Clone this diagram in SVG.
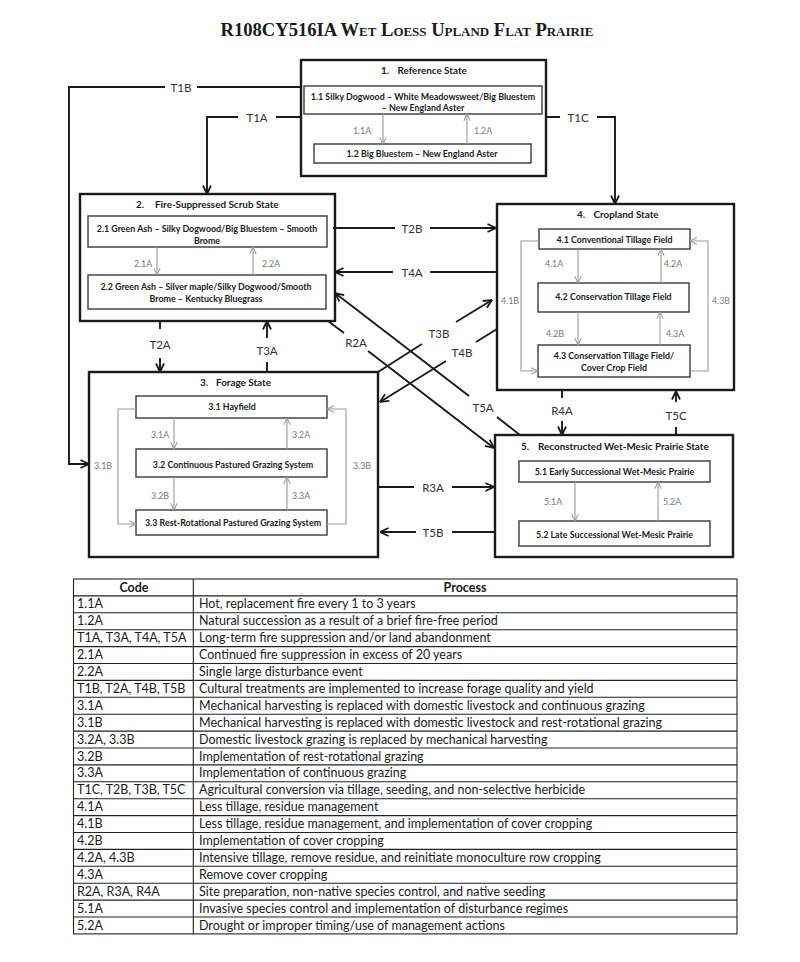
<svg xmlns="http://www.w3.org/2000/svg" width="800" height="962" viewBox="0 0 800 962">
<style>
.bg{fill:#fff}
.outer{fill:#fff;stroke:#1a1a1a;stroke-width:2.4}
.inner{fill:#fff;stroke:#3a3a3a;stroke-width:1.4}
.con{fill:none;stroke:#1a1a1a;stroke-width:1.9}
.gcon{fill:none;stroke:#9a9a9a;stroke-width:1.1}
.st{font-family:Lato,"Liberation Sans",sans-serif;font-weight:bold;font-size:9.9px;fill:#1a1a1a}
.bt{font-family:Lato,"Liberation Sans",sans-serif;font-weight:bold;font-size:8.9px;fill:#1a1a1a;text-anchor:middle}
.cl{font-family:Lato,"Liberation Sans",sans-serif;font-size:11.5px;fill:#333;text-anchor:middle;dominant-baseline:central}
.gl{font-family:Lato,"Liberation Sans",sans-serif;font-size:8.8px;fill:#777;text-anchor:middle;dominant-baseline:central}
.tt{font-family:Lato,"Liberation Sans",sans-serif;font-size:12.5px;fill:#1a1a1a}
.th{font-family:Lato,"Liberation Sans",sans-serif;font-size:12.5px;font-weight:bold;fill:#1a1a1a;text-anchor:middle}
.tl{fill:none;stroke:#222;stroke-width:1.1}
</style>
<defs>
<marker id="ah" viewBox="0 0 10 10" refX="9.5" refY="5" markerWidth="10" markerHeight="10" markerUnits="userSpaceOnUse" orient="auto">
<path d="M1,1 L9.5,5 L1,9" fill="none" stroke="#1a1a1a" stroke-width="1.8"/>
</marker>
<marker id="gh" viewBox="0 0 10 10" refX="9.5" refY="5" markerWidth="8" markerHeight="8" markerUnits="userSpaceOnUse" orient="auto">
<path d="M1,1 L9.5,5 L1,9" fill="none" stroke="#9a9a9a" stroke-width="1.3"/>
</marker>
</defs>
<rect class="bg" x="0" y="0" width="800" height="962"/>

<text x="407" y="35.7" font-family="'Liberation Serif','Times New Roman',serif" font-weight="bold" font-size="18.7" font-variant="small-caps" text-anchor="middle" textLength="373" lengthAdjust="spacingAndGlyphs" fill="#1a1a1a">R108CY516IA Wet Loess Upland Flat Prairie</text>

<g id="state1">
<rect class="outer" x="301" y="60" width="245" height="116"/>
<text class="st" y="74"><tspan x="381">1.</tspan><tspan x="397.5">Reference State</tspan></text>
<rect class="inner" x="304" y="86" width="238" height="28"/>
<text class="bt" x="423" y="99.5">1.1 Silky Dogwood – White Meadowsweet/Big Bluestem</text>
<text class="bt" x="423" y="110.5">– New England Aster</text>
<rect class="inner" x="314" y="144" width="217" height="19"/>
<text class="bt" x="422" y="156.5">1.2 Big Bluestem – New England Aster</text>
<path class="gcon" d="M383,114 V144" marker-end="url(#gh)"/>
<path class="gcon" d="M467,144 V114" marker-end="url(#gh)"/>
<text class="gl" x="362" y="130">1.1A</text>
<text class="gl" x="483" y="130">1.2A</text>
</g>

<g id="state2">
<rect class="outer" x="80" y="194" width="255" height="127"/>
<text class="st" y="207.5"><tspan x="136">2.</tspan><tspan x="155">Fire-Suppressed Scrub State</tspan></text>
<rect class="inner" x="88" y="216" width="239" height="31"/>
<text class="bt" x="207" y="232">2.1  Green Ash – Silky Dogwood/Big Bluestem – Smooth</text>
<text class="bt" x="207" y="243.5">Brome</text>
<rect class="inner" x="88" y="275" width="238" height="34"/>
<text class="bt" x="206" y="290">2.2  Green Ash – Silver maple/Silky Dogwood/Smooth</text>
<text class="bt" x="206" y="301.5">Brome – Kentucky Bluegrass</text>
<path class="gcon" d="M157,247 V275" marker-end="url(#gh)"/>
<path class="gcon" d="M253,275 V247" marker-end="url(#gh)"/>
<text class="gl" x="143" y="263">2.1A</text>
<text class="gl" x="271" y="263">2.2A</text>
</g>

<g id="state4">
<rect class="outer" x="497" y="204" width="237" height="186"/>
<text class="st" y="217.5"><tspan x="577">4.</tspan><tspan x="593.5">Cropland State</tspan></text>
<rect class="inner" x="539" y="229" width="151" height="20"/>
<text class="bt" x="614.5" y="242.5">4.1 Conventional Tillage Field</text>
<rect class="inner" x="538" y="283" width="151" height="29"/>
<text class="bt" x="613.5" y="300">4.2 Conservation Tillage Field</text>
<rect class="inner" x="538" y="345" width="152" height="32"/>
<text class="bt" x="614" y="359">4.3 Conservation Tillage Field/</text>
<text class="bt" x="614" y="370.5">Cover Crop Field</text>
<path class="gcon" d="M578,249 V283" marker-end="url(#gh)"/>
<path class="gcon" d="M661,283 V249" marker-end="url(#gh)"/>
<path class="gcon" d="M578,312 V345" marker-end="url(#gh)"/>
<path class="gcon" d="M660,345 V312" marker-end="url(#gh)"/>
<path class="gcon" d="M539,241 H521 V371 H538" marker-end="url(#gh)"/>
<path class="gcon" d="M690,371 H708 V241 H690" marker-end="url(#gh)"/>
<text class="gl" x="554" y="263">4.1A</text>
<text class="gl" x="673" y="263">4.2A</text>
<text class="gl" x="555" y="333">4.2B</text>
<text class="gl" x="675" y="333">4.3A</text>
<text class="gl" x="510" y="300">4.1B</text>
<text class="gl" x="721" y="300">4.3B</text>
</g>

<g id="state3">
<rect class="outer" x="89" y="372" width="289" height="185"/>
<text class="st" y="386"><tspan x="200">3.</tspan><tspan x="216">Forage State</tspan></text>
<rect class="inner" x="136" y="396" width="191" height="22"/>
<text class="bt" x="232" y="410">3.1 Hayfield</text>
<rect class="inner" x="136" y="449" width="191" height="28"/>
<text class="bt" x="233" y="468">3.2 Continuous Pastured Grazing System</text>
<rect class="inner" x="136" y="510" width="191" height="25"/>
<text class="bt" x="233" y="526">3.3 Rest-Rotational Pastured Grazing System</text>
<path class="gcon" d="M174,418 V449" marker-end="url(#gh)"/>
<path class="gcon" d="M287,449 V418" marker-end="url(#gh)"/>
<path class="gcon" d="M174,477 V510" marker-end="url(#gh)"/>
<path class="gcon" d="M287,510 V477" marker-end="url(#gh)"/>
<path class="gcon" d="M136,409 H118 V524 H136" marker-end="url(#gh)"/>
<path class="gcon" d="M327,524 H346 V409 H327" marker-end="url(#gh)"/>
<text class="gl" x="160" y="434">3.1A</text>
<text class="gl" x="301" y="434">3.2A</text>
<text class="gl" x="160" y="495">3.2B</text>
<text class="gl" x="301" y="495">3.3A</text>
<text class="gl" x="103" y="465">3.1B</text>
<text class="gl" x="362" y="465">3.3B</text>
</g>

<g id="state5">
<rect class="outer" x="495" y="435" width="238" height="122"/>
<text class="st" y="450"><tspan x="521">5.</tspan><tspan x="538">Reconstructed Wet-Mesic Prairie State</tspan></text>
<rect class="inner" x="519" y="461" width="191" height="21"/>
<text class="bt" x="614.5" y="475">5.1 Early Successional Wet-Mesic Prairie</text>
<rect class="inner" x="519" y="521" width="191" height="25"/>
<text class="bt" x="614.5" y="538">5.2 Late Successional Wet-Mesic Prairie</text>
<path class="gcon" d="M575,482 V521" marker-end="url(#gh)"/>
<path class="gcon" d="M658,521 V482" marker-end="url(#gh)"/>
<text class="gl" x="553" y="501">5.1A</text>
<text class="gl" x="672" y="501">5.2A</text>
</g>

<g id="connectors">
<path class="con" d="M301,87 H197 M165,87 H69 V464 H89" marker-end="url(#ah)"/>
<text class="cl" x="181" y="87">T1B</text>
<path class="con" d="M301,117 H276 M238,117 H207 V194" marker-end="url(#ah)"/>
<text class="cl" x="257" y="117">T1A</text>
<path class="con" d="M546,117 H560 M597,117 H615 V204" marker-end="url(#ah)"/>
<text class="cl" x="578" y="117">T1C</text>
<path class="con" d="M333,228 H395 M430,228 H496" marker-end="url(#ah)"/>
<text class="cl" x="412" y="228">T2B</text>
<path class="con" d="M497,272 H430 M393,272 H335" marker-end="url(#ah)"/>
<text class="cl" x="412" y="272">T4A</text>
<path class="con" d="M160,321 V329 M160,358 V372" marker-end="url(#ah)"/>
<text class="cl" x="160" y="344">T2A</text>
<path class="con" d="M267,372 V362 M267,338 V321" marker-end="url(#ah)"/>
<text class="cl" x="267" y="350">T3A</text>
<path class="con" d="M328,321 L344,333 M368,351 L494,448" marker-end="url(#ah)"/>
<text class="cl" x="356" y="342">R2A</text>
<path class="con" d="M520,435 L497,417 M469,396 L335,293" marker-end="url(#ah)"/>
<text class="cl" x="483" y="407">T5A</text>
<path class="con" d="M378,372 L422,344 M456,322 L492,300" marker-end="url(#ah)"/>
<text class="cl" x="439" y="333">T3B</text>
<path class="con" d="M497,329 L476,342 M446,361 L380,402" marker-end="url(#ah)"/>
<text class="cl" x="462" y="352">T4B</text>
<path class="con" d="M562,390 V398 M562,421 V435" marker-end="url(#ah)"/>
<text class="cl" x="562" y="410">R4A</text>
<path class="con" d="M676,435 V427 M676,402 V391" marker-end="url(#ah)"/>
<text class="cl" x="676" y="415">T5C</text>
<path class="con" d="M378,487 H414 M452,487 H494" marker-end="url(#ah)"/>
<text class="cl" x="433" y="487">R3A</text>
<path class="con" d="M495,532 H452 M416,532 H380" marker-end="url(#ah)"/>
<text class="cl" x="433" y="532">T5B</text>
</g>

<g id="table">
<rect class="tl" x="73.5" y="579" width="663.5" height="354.9"/>
<path class="tl" d="M193.3,579 V933.9 M73.5,595.9 H737 M73.5,612.8 H737 M73.5,629.7 H737 M73.5,646.6 H737 M73.5,663.5 H737 M73.5,680.4 H737 M73.5,697.3 H737 M73.5,714.2 H737 M73.5,731.1 H737 M73.5,748 H737 M73.5,764.9 H737 M73.5,781.8 H737 M73.5,798.7 H737 M73.5,815.6 H737 M73.5,832.5 H737 M73.5,849.4 H737 M73.5,866.3 H737 M73.5,883.2 H737 M73.5,900.1 H737 M73.5,917 H737"/>
<text class="th" x="134" y="591.5">Code</text>
<text class="th" x="465" y="591.5">Process</text>
<g class="tt">
<text x="77" y="608.4">1.1A</text><text x="199" y="608.4">Hot, replacement fire every 1 to 3 years</text>
<text x="77" y="625.3">1.2A</text><text x="199" y="625.3">Natural succession as a result of a brief fire-free period</text>
<text x="77" y="642.2">T1A, T3A, T4A, T5A</text><text x="199" y="642.2">Long-term fire suppression and/or land abandonment</text>
<text x="77" y="659.1">2.1A</text><text x="199" y="659.1">Continued fire suppression in excess of 20 years</text>
<text x="77" y="676">2.2A</text><text x="199" y="676">Single large disturbance event</text>
<text x="77" y="692.9">T1B, T2A, T4B, T5B</text><text x="199" y="692.9">Cultural treatments are implemented to increase forage quality and yield</text>
<text x="77" y="709.8">3.1A</text><text x="199" y="709.8">Mechanical harvesting is replaced with domestic livestock and continuous grazing</text>
<text x="77" y="726.7">3.1B</text><text x="199" y="726.7">Mechanical harvesting is replaced with domestic livestock and rest-rotational grazing</text>
<text x="77" y="743.6">3.2A, 3.3B</text><text x="199" y="743.6">Domestic livestock grazing is replaced by mechanical harvesting</text>
<text x="77" y="760.5">3.2B</text><text x="199" y="760.5">Implementation of rest-rotational grazing</text>
<text x="77" y="777.4">3.3A</text><text x="199" y="777.4">Implementation of continuous grazing</text>
<text x="77" y="794.3">T1C, T2B, T3B, T5C</text><text x="199" y="794.3">Agricultural conversion via tillage, seeding, and non-selective herbicide</text>
<text x="77" y="811.2">4.1A</text><text x="199" y="811.2">Less tillage, residue management</text>
<text x="77" y="828.1">4.1B</text><text x="199" y="828.1">Less tillage, residue management, and implementation of cover cropping</text>
<text x="77" y="845">4.2B</text><text x="199" y="845">Implementation of cover cropping</text>
<text x="77" y="861.9">4.2A, 4.3B</text><text x="199" y="861.9">Intensive tillage, remove residue, and reinitiate monoculture row cropping</text>
<text x="77" y="878.8">4.3A</text><text x="199" y="878.8">Remove cover cropping</text>
<text x="77" y="895.7">R2A, R3A, R4A</text><text x="199" y="895.7">Site preparation, non-native species control, and native seeding</text>
<text x="77" y="912.6">5.1A</text><text x="199" y="912.6">Invasive species control and implementation of disturbance regimes</text>
<text x="77" y="929.5">5.2A</text><text x="199" y="929.5">Drought or improper timing/use of management actions</text>
</g>
</g>
</svg>
